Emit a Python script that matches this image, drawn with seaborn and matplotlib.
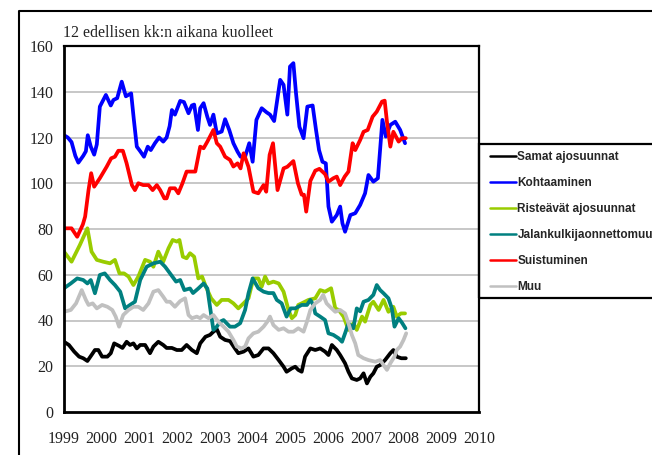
import numpy as np
import pandas as pd
import matplotlib
matplotlib.use("Agg")
import matplotlib.pyplot as plt
import seaborn as sns
from matplotlib.lines import Line2D
from matplotlib.patches import Rectangle

title = "12 edellisen kk:n aikana kuolleet"
series_names = ["Samat ajosuunnat", "Kohtaaminen", "Risteävät ajosuunnat",
                "Jalankulkijaonnettomuu", "Suistuminen", "Muu"]
colors = ["#000000", "#0000FF", "#99CC00", "#008080", "#FF0000", "#C0C0C0"]
year_ticks = list(range(1999, 2011))
y_ticks = [0, 20, 40, 60, 80, 100, 120, 140, 160]

samat_t = [1999.00, 1999.13, 1999.27, 1999.40, 1999.51, 1999.62, 1999.73, 1999.82, 1999.91, 2000.01,
           2000.15, 2000.24, 2000.33, 2000.46, 2000.55, 2000.66, 2000.75, 2000.84, 2000.93, 2001.02,
           2001.15, 2001.28, 2001.37, 2001.50, 2001.63, 2001.72, 2001.86, 2001.99, 2002.12, 2002.25,
           2002.39, 2002.52, 2002.61, 2002.75, 2002.87, 2002.96, 2003.05, 2003.14, 2003.27, 2003.40,
           2003.53, 2003.62, 2003.76, 2003.89, 2004.02, 2004.15, 2004.29, 2004.42, 2004.55, 2004.69,
           2004.82, 2004.90, 2005.04, 2005.13, 2005.21, 2005.30, 2005.39, 2005.53, 2005.66, 2005.79,
           2005.92, 2006.01, 2006.10, 2006.23, 2006.32, 2006.45, 2006.54, 2006.63, 2006.76, 2006.85,
           2006.94, 2007.03, 2007.12, 2007.20, 2007.29, 2007.38, 2007.51, 2007.65, 2007.73, 2007.82,
           2007.94, 2008.06]
samat_v = [30.7, 29.3, 26.4, 24.2, 23.5, 22.3, 24.9, 27.1, 27.1, 24.2,
           24.2, 25.7, 30.0, 28.9, 28.0, 30.7, 29.3, 30.0, 27.8, 29.3,
           29.3, 25.7, 28.6, 30.7, 29.3, 28.0, 28.0, 27.1, 27.1, 29.3,
           27.1, 25.7, 30.0, 32.9, 33.7, 35.1, 36.2, 32.9, 31.5, 31.0,
           27.8, 25.7, 26.4, 27.8, 24.2, 24.9, 27.8, 27.8, 25.7, 22.7,
           19.8, 17.6, 19.1, 19.8, 18.4, 17.6, 24.2, 27.8, 27.1, 27.8,
           26.4, 24.9, 29.3, 27.1, 24.9, 21.3, 17.6, 14.7, 14.0, 14.7,
           16.9, 12.5, 15.4, 16.9, 19.8, 20.5, 22.7, 25.7, 27.1, 24.2,
           23.5, 23.5]

kohtaaminen_t = [1999.00, 1999.10, 1999.20, 1999.30, 1999.38, 1999.51, 1999.58, 1999.63, 1999.71, 1999.80,
                 1999.87, 1999.95, 2000.11, 2000.24, 2000.31, 2000.41, 2000.53, 2000.64, 2000.78, 2000.85,
                 2000.93, 2001.02, 2001.12, 2001.22, 2001.30, 2001.41, 2001.52, 2001.63, 2001.72, 2001.80,
                 2001.86, 2001.94, 2002.08, 2002.18, 2002.30, 2002.39, 2002.45, 2002.55, 2002.61, 2002.70,
                 2002.80, 2002.87, 2002.96, 2003.05, 2003.18, 2003.27, 2003.38, 2003.49, 2003.60, 2003.68,
                 2003.80, 2003.91, 2004.00, 2004.10, 2004.24, 2004.37, 2004.46, 2004.57, 2004.73, 2004.82,
                 2004.92, 2004.99, 2005.08, 2005.15, 2005.24, 2005.35, 2005.45, 2005.59, 2005.68, 2005.76,
                 2005.85, 2005.94, 2006.01, 2006.10, 2006.23, 2006.32, 2006.38, 2006.45, 2006.59, 2006.72,
                 2006.85, 2006.98, 2007.07, 2007.20, 2007.32, 2007.44, 2007.53, 2007.65, 2007.78, 2007.91,
                 2008.04]
kohtaaminen_v = [121.0, 120.0, 118.0, 112.0, 109.0, 112.0, 114.0, 121.0, 116.0, 112.5,
                 117.0, 133.5, 138.6, 134.0, 136.4, 137.2, 144.4, 138.0, 139.3, 128.0,
                 116.0, 114.0, 111.6, 116.0, 114.5, 117.5, 120.0, 118.2, 120.0, 125.0,
                 132.0, 130.0, 136.0, 135.5, 130.6, 134.0, 134.4, 123.3, 132.8, 135.0,
                 129.0, 125.5, 130.0, 121.8, 122.6, 128.0, 123.3, 117.5, 113.8, 111.6,
                 111.6, 117.5, 109.4, 127.7, 132.8, 131.0, 130.0, 127.2, 145.2, 143.0,
                 130.0, 151.0, 152.5, 139.3, 124.7, 119.7, 133.5, 134.0, 123.3, 114.5,
                 109.4, 108.7, 89.8, 83.2, 86.1, 89.8, 82.5, 78.8, 86.1, 86.9,
                 90.5, 95.6, 103.6, 100.7, 102.2, 127.7, 120.4, 125.5, 126.9, 123.3,
                 117.5]

risteavat_t = [1999.00, 1999.20, 1999.42, 1999.62, 1999.73, 1999.87, 2000.04, 2000.22, 2000.35, 2000.47,
               2000.59, 2000.71, 2000.84, 2000.97, 2001.15, 2001.28, 2001.37, 2001.50, 2001.63, 2001.77,
               2001.88, 2001.99, 2002.06, 2002.15, 2002.25, 2002.34, 2002.45, 2002.56, 2002.66, 2002.76,
               2002.90, 2003.05, 2003.18, 2003.36, 2003.49, 2003.62, 2003.76, 2003.89, 2004.02, 2004.15,
               2004.24, 2004.33, 2004.42, 2004.55, 2004.69, 2004.82, 2004.95, 2005.04, 2005.13, 2005.21,
               2005.30, 2005.48, 2005.66, 2005.79, 2005.92, 2006.08, 2006.19, 2006.28, 2006.41, 2006.54,
               2006.67, 2006.76, 2006.90, 2006.98, 2007.12, 2007.20, 2007.34, 2007.47, 2007.60, 2007.73,
               2007.82, 2007.93, 2008.04]
risteavat_v = [70.1, 65.7, 73.0, 80.3, 70.1, 66.5, 65.7, 65.0, 66.5, 60.6,
               60.6, 59.2, 55.5, 59.2, 66.5, 65.7, 63.5, 70.1, 65.7, 71.6,
               75.2, 74.5, 75.2, 67.9, 67.2, 69.4, 67.9, 58.4, 59.2, 54.8,
               49.7, 46.8, 49.0, 49.0, 47.5, 45.3, 47.5, 49.7, 58.4, 58.4,
               54.8, 59.2, 56.2, 57.0, 56.2, 52.6, 44.6, 41.0, 42.4, 46.8,
               47.5, 49.0, 49.7, 53.3, 52.6, 54.1, 45.3, 44.6, 41.7, 35.9,
               38.8, 35.9, 41.7, 39.5, 46.8, 48.2, 44.6, 49.0, 43.8, 46.0,
               41.7, 43.1, 43.1]

jalankulkija_t = [1999.00, 1999.18, 1999.35, 1999.51, 1999.62, 1999.71, 1999.82, 1999.95, 2000.08, 2000.22,
                  2000.35, 2000.49, 2000.62, 2000.75, 2000.88, 2001.02, 2001.19, 2001.37, 2001.55, 2001.68,
                  2001.81, 2001.97, 2002.08, 2002.19, 2002.34, 2002.42, 2002.56, 2002.70, 2002.80, 2002.87,
                  2002.96, 2003.05, 2003.14, 2003.23, 2003.31, 2003.40, 2003.53, 2003.67, 2003.80, 2003.89,
                  2004.00, 2004.15, 2004.29, 2004.42, 2004.55, 2004.64, 2004.77, 2004.90, 2005.01, 2005.13,
                  2005.30, 2005.44, 2005.53, 2005.61, 2005.66, 2005.79, 2005.92, 2006.01, 2006.14, 2006.28,
                  2006.37, 2006.45, 2006.54, 2006.67, 2006.76, 2006.85, 2006.94, 2007.07, 2007.20, 2007.29,
                  2007.38, 2007.47, 2007.60, 2007.69, 2007.76, 2007.87, 2007.96, 2008.05]
jalankulkija_v = [54.1, 56.2, 58.4, 57.7, 56.2, 57.7, 51.9, 59.9, 60.6, 57.7,
                  55.5, 52.6, 45.3, 46.8, 48.2, 57.7, 63.5, 65.0, 65.7, 63.5,
                  60.6, 57.0, 57.7, 53.3, 54.0, 52.0, 54.0, 56.2, 54.0, 46.0,
                  35.9, 37.3, 39.5, 40.2, 38.8, 37.3, 37.3, 38.8, 44.6, 51.9,
                  58.4, 54.1, 52.6, 52.0, 52.0, 49.0, 47.5, 41.7, 45.3, 45.3,
                  46.8, 46.8, 49.0, 46.8, 43.1, 41.7, 40.2, 34.4, 33.7, 32.2,
                  30.7, 34.4, 38.8, 36.6, 45.3, 44.0, 48.2, 49.0, 51.2, 55.5,
                  53.3, 51.9, 49.7, 45.3, 37.3, 41.0, 39.0, 36.6]

suistuminen_t = [1999.00, 1999.20, 1999.35, 1999.50, 1999.56, 1999.65, 1999.72, 1999.80, 1999.95, 2000.13,
                 2000.25, 2000.35, 2000.44, 2000.56, 2000.66, 2000.80, 2000.88, 2000.97, 2001.10, 2001.24,
                 2001.35, 2001.46, 2001.55, 2001.66, 2001.72, 2001.81, 2001.94, 2002.03, 2002.14, 2002.25,
                 2002.48, 2002.61, 2002.70, 2002.80, 2002.96, 2003.05, 2003.14, 2003.27, 2003.40, 2003.49,
                 2003.60, 2003.68, 2003.76, 2003.89, 2004.02, 2004.15, 2004.29, 2004.36, 2004.45, 2004.54,
                 2004.66, 2004.82, 2004.92, 2005.08, 2005.20, 2005.30, 2005.36, 2005.42, 2005.53, 2005.66,
                 2005.77, 2005.92, 2006.01, 2006.14, 2006.23, 2006.32, 2006.44, 2006.54, 2006.65, 2006.72,
                 2006.85, 2006.94, 2007.05, 2007.18, 2007.29, 2007.43, 2007.50, 2007.56, 2007.65, 2007.73,
                 2007.87, 2007.96, 2008.06]
suistuminen_v = [80.3, 80.3, 76.6, 82.0, 85.4, 97.0, 104.4, 98.5, 102.2, 107.2,
                 110.9, 111.6, 114.2, 114.2, 108.7, 99.2, 97.0, 100.0, 99.2, 99.2,
                 97.0, 99.2, 97.0, 93.4, 93.4, 97.8, 97.8, 95.6, 100.0, 105.1,
                 105.1, 116.0, 115.3, 118.2, 123.3, 117.5, 116.0, 111.6, 110.2, 107.3,
                 108.7, 106.5, 113.1, 107.2, 96.3, 95.6, 99.2, 96.3, 112.4, 117.5,
                 97.0, 106.5, 107.2, 109.7, 100.0, 95.0, 95.0, 87.6, 101.0, 105.5,
                 106.3, 104.0, 100.7, 102.2, 102.9, 99.2, 102.9, 105.1, 117.5, 114.5,
                 118.9, 122.5, 123.3, 129.1, 131.3, 135.7, 136.1, 126.9, 116.0, 122.5,
                 118.2, 119.7, 119.7]

muu_t = [1999.00, 1999.18, 1999.32, 1999.47, 1999.58, 1999.65, 1999.76, 1999.87, 2000.01, 2000.15,
         2000.28, 2000.37, 2000.46, 2000.57, 2000.71, 2000.84, 2000.97, 2001.10, 2001.24, 2001.37,
         2001.50, 2001.63, 2001.72, 2001.81, 2001.94, 2002.08, 2002.21, 2002.30, 2002.39, 2002.52,
         2002.61, 2002.70, 2002.83, 2002.96, 2003.09, 2003.23, 2003.36, 2003.49, 2003.58, 2003.71,
         2003.80, 2003.89, 2004.02, 2004.15, 2004.29, 2004.39, 2004.46, 2004.55, 2004.69, 2004.82,
         2004.95, 2005.08, 2005.21, 2005.35, 2005.44, 2005.53, 2005.66, 2005.79, 2005.87, 2005.96,
         2006.05, 2006.19, 2006.32, 2006.45, 2006.54, 2006.63, 2006.72, 2006.80, 2006.94, 2007.07,
         2007.25, 2007.38, 2007.47, 2007.56, 2007.65, 2007.76, 2007.82, 2007.91, 2008.00, 2008.07]
muu_v = [43.8, 44.6, 47.5, 53.3, 49.0, 46.8, 47.5, 45.3, 46.8, 46.0,
         44.6, 41.7, 37.3, 42.4, 44.6, 46.0, 46.0, 44.6, 47.5, 52.6,
         53.3, 50.4, 48.2, 48.2, 46.0, 48.5, 49.7, 42.4, 41.0, 41.7,
         41.0, 42.4, 41.0, 42.4, 39.5, 37.3, 35.1, 31.5, 28.6, 27.8,
         28.6, 32.2, 34.4, 35.1, 37.3, 39.5, 41.7, 38.0, 35.9, 36.6,
         35.1, 35.1, 36.6, 35.1, 39.5, 44.6, 47.5, 49.0, 51.2, 47.5,
         46.0, 43.8, 44.6, 43.1, 38.8, 33.7, 30.0, 24.9, 23.5, 22.7,
         22.0, 22.7, 20.5, 18.4, 21.3, 24.2, 27.1, 28.6, 31.5, 34.4]

all_t = [samat_t, kohtaaminen_t, risteavat_t, jalankulkija_t, suistuminen_t, muu_t]
all_v = [samat_v, kohtaaminen_v, risteavat_v, jalankulkija_v, suistuminen_v, muu_v]

frames = []
for name, t, v in zip(series_names, all_t, all_v):
    frames.append(pd.DataFrame({"Vuosi": t, "Kuolleet": v, "Sarja": name}))
df = pd.concat(frames, ignore_index=True)

sns.set_style("white")
plt.rcParams["font.family"] = ["Liberation Serif", "DejaVu Serif"]

W, H = 652, 455
fig = plt.figure(figsize=(W / 100, H / 100), dpi=100)
ax = fig.add_axes([64 / W, 1 - 412 / H, (479 - 64) / W, (412 - 46) / H])

sns.lineplot(data=df, x="Vuosi", y="Kuolleet", hue="Sarja", hue_order=series_names,
             palette=dict(zip(series_names, colors)), estimator=None, sort=False,
             linewidth=2.7, ax=ax, legend=False)

ax.set_xlim(1999, 2010)
ax.set_ylim(0, 160)
ax.set_xticks(year_ticks)
ax.set_xticklabels([str(y) for y in year_ticks])
ax.set_yticks(y_ticks)
ax.set_xlabel("")
ax.set_ylabel("")
ax.grid(False)
for yv in y_ticks[1:-1]:
    ax.axhline(yv, color="#BEBEBE", linewidth=1.2, zorder=0)
for s in ax.spines.values():
    s.set_visible(True)
    s.set_color("black")
ax.spines["left"].set_linewidth(2.0)
ax.spines["bottom"].set_linewidth(2.0)
ax.spines["top"].set_linewidth(1.6)
ax.spines["right"].set_linewidth(1.6)
ax.tick_params(axis="both", which="both", direction="inout", length=9, width=1.6,
               colors="black", labelsize=11.5, labelcolor="#222222")
ax.tick_params(axis="y", pad=3)
ax.tick_params(axis="x", pad=9)

fig.text(63 / W, 1 - 37 / H, title, fontsize=11.5, color="#222222",
         ha="left", va="baseline", family=["Liberation Serif", "DejaVu Serif"])

# outer chart frame
fig.add_artist(Line2D([19 / W, 19 / W, 1.01], [-0.01, 1 - 11 / H, 1 - 11 / H],
                      transform=fig.transFigure, color="black", linewidth=1.5))
# legend box
fig.add_artist(Rectangle((479 / W, 1 - 298 / H), 200 / W, (298 - 144) / H,
                         transform=fig.transFigure, fill=False, edgecolor="black",
                         linewidth=1.6, clip_on=False))
handles = [Line2D([], [], color=c, linewidth=1.8) for c in colors]
fig.legend(handles, series_names, loc="upper left",
           bbox_to_anchor=(490 / W, 1 - 151 / H), frameon=False,
           prop={"family": ["Liberation Sans", "DejaVu Sans"], "weight": "bold", "size": 8.5},
           handlelength=2.2, handletextpad=0.12, labelspacing=1.19, borderpad=0,
           borderaxespad=0)

fig.savefig("out.png", dpi=100)
